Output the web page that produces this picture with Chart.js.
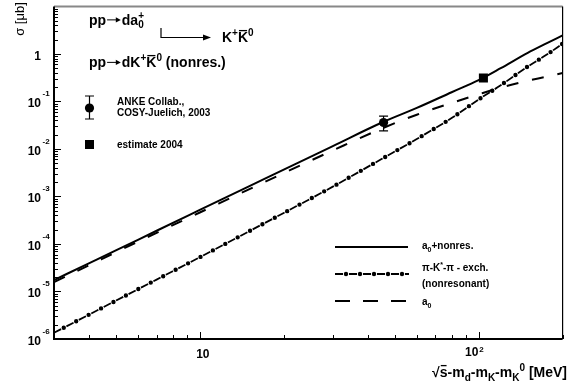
<!DOCTYPE html>
<html>
<head>
<meta charset="utf-8">
<script src="https://cdn.jsdelivr.net/npm/chart.js@4.4.1/dist/chart.umd.min.js"></script>
<style>
  html, body { margin: 0; padding: 0; background: #fff; }
  #wrap { width: 569px; height: 383px; }
</style>
</head>
<body>
<div id="wrap"><canvas id="sigmaChart" width="569" height="383"></canvas></div>
<script>
// excess energy Q = sqrt(s) - m_d - m_K - m_K0 [MeV]
const energies = [3, 4, 5, 7, 10, 15, 20, 30, 45, 60, 80, 100, 120, 150, 175, 200];
// cross sections [mub]
const sigmaTotal  = [1.74e-5, 3.9e-5, 7.3e-5, 1.9e-4, 5.2e-4, 1.63e-3, 3.66e-3, 1.15e-2, 3.6e-2, 7.3e-2, 0.156, 0.28, 0.50, 1.05, 1.66, 2.45];
const sigmaNonres = [1.35e-6, 3.24e-6, 6.4e-6, 1.78e-5, 5.25e-5, 1.84e-4, 4.5e-4, 1.61e-3, 6.2e-3, 1.62e-2, 4.47e-2, 0.11, 0.219, 0.542, 0.955, 1.64];
const sigmaA0     = [1.58e-5, 3.55e-5, 6.7e-5, 1.72e-4, 4.6e-4, 1.41e-3, 3.1e-3, 9.3e-3, 2.7e-2, 5.25e-2, 9.3e-2, 0.141, 0.195, 0.272, 0.331, 0.398];

// measured point (ANKE) and estimate
const ankeX = [45.6];
const ankeY = [0.036];
const ankeLow = [0.024];
const ankeHigh = [0.049];
const estimateX = [104];
const estimateY = [0.31];

// axis ticks
const xMajorTicks = [10, 100];
const xMinorTicks = [3, 4, 5, 6, 7, 8, 9, 20, 30, 40, 50, 60, 70, 80, 90, 200];
const xTickLabels = [['10', ''], ['10', '2']];
const yMajorTicks = [1, 0.1, 0.01, 1e-3, 1e-4, 1e-5, 1e-6];
const yTickLabels = [['1', ''], ['10', '-1'], ['10', '-2'], ['10', '-3'], ['10', '-4'], ['10', '-5'], ['10', '-6']];

const FONT = '"Liberation Sans", Arial, sans-serif';

function toXY(xs, ys) {
  return xs.map((x, i) => ({ x: x, y: ys[i] }));
}

// draws text made of parts: [text, mode]; mode '', 'sub', 'sup', 'subsup', 'bar', 'arrow'
function richText(ctx, x, y, parts, size, weight, draw) {
  const small = Math.round(size * 0.68);
  const start = x;
  parts.forEach(p => {
    const txt = p[0], mode = p[1] || '';
    if (mode === 'arrow') {
      const len = size * 1.05, ay = y - size * 0.33;
      if (draw) {
        ctx.save();
        ctx.lineWidth = 1;
        ctx.beginPath();
        ctx.moveTo(x + 1, ay); ctx.lineTo(x + len - 2, ay);
        ctx.stroke();
        ctx.beginPath();
        ctx.moveTo(x + len, ay); ctx.lineTo(x + len - 5, ay - 2.6); ctx.lineTo(x + len - 5, ay + 2.6); ctx.closePath();
        ctx.fill();
        ctx.restore();
      }
      x += len + 1;
    } else if (mode === 'sub' || mode === 'sup') {
      ctx.font = `${weight} ${small}px ${FONT}`;
      const dy = mode === 'sub' ? size * 0.28 : -size * 0.42;
      if (draw) ctx.fillText(txt, x, y + dy);
      x += ctx.measureText(txt).width;
    } else if (mode === 'subsup') {
      ctx.font = `${weight} ${small}px ${FONT}`;
      if (draw) {
        ctx.fillText(txt[0], x, y + size * 0.28);
        ctx.fillText(txt[1], x, y - size * 0.42);
      }
      x += Math.max(ctx.measureText(txt[0]).width, ctx.measureText(txt[1]).width);
    } else {
      ctx.font = `${weight} ${size}px ${FONT}`;
      const w = ctx.measureText(txt).width;
      if (draw) {
        ctx.fillText(txt, x, y);
        if (mode === 'bar') {
          ctx.fillRect(x + 1, y - size * 0.86, w - 2, 1.3);
        }
      }
      x += w;
    }
  });
  return x - start;
}

const decorPlugin = {
  id: 'decor',
  afterDraw(chart) {
    const ctx = chart.ctx;
    const xs = chart.scales.x, ys = chart.scales.y;
    const a = chart.chartArea;
    ctx.save();
    ctx.fillStyle = '#000';
    ctx.strokeStyle = '#000';
    ctx.textBaseline = 'alphabetic';

    // error bar for ANKE point
    ankeX.forEach((v, i) => {
      const px = xs.getPixelForValue(v);
      const lo = ys.getPixelForValue(ankeLow[i]);
      const hi = ys.getPixelForValue(ankeHigh[i]);
      ctx.lineWidth = 1.2;
      ctx.beginPath();
      ctx.moveTo(px, lo); ctx.lineTo(px, hi);
      ctx.moveTo(px - 4.5, lo); ctx.lineTo(px + 4.5, lo);
      ctx.moveTo(px - 4.5, hi); ctx.lineTo(px + 4.5, hi);
      ctx.stroke();
    });

    // frame
    ctx.lineWidth = 2;
    ctx.strokeStyle = '#888';
    ctx.beginPath(); ctx.moveTo(a.left, a.top); ctx.lineTo(a.right, a.top); ctx.stroke();
    ctx.strokeStyle = '#000';
    ctx.lineWidth = 1.2;
    ctx.beginPath(); ctx.moveTo(a.right, a.top); ctx.lineTo(a.right, a.bottom); ctx.stroke();
    ctx.lineWidth = 2;
    ctx.beginPath(); ctx.moveTo(a.left, a.top); ctx.lineTo(a.left, a.bottom); ctx.lineTo(a.right, a.bottom); ctx.stroke();

    // ticks
    ctx.lineWidth = 1;
    ctx.beginPath();
    xMajorTicks.forEach(v => { const p = Math.round(xs.getPixelForValue(v)) + 0.5; ctx.moveTo(p, a.bottom); ctx.lineTo(p, a.bottom - 7); });
    xMinorTicks.forEach(v => { const p = Math.round(xs.getPixelForValue(v)) + 0.5; ctx.moveTo(p, a.bottom); ctx.lineTo(p, a.bottom - 4); });
    for (let d = -6; d <= 0; d++) {
      const base = Math.pow(10, d);
      let p = Math.round(ys.getPixelForValue(base)) + 0.5;
      ctx.moveTo(a.left, p); ctx.lineTo(a.left + 7, p);
      for (let k = 2; k <= 9; k++) {
        p = Math.round(ys.getPixelForValue(base * k)) + 0.5;
        ctx.moveTo(a.left, p); ctx.lineTo(a.left + 4, p);
      }
    }
    ctx.stroke();

    // y tick labels
    yMajorTicks.forEach((v, i) => {
      const p = ys.getPixelForValue(v);
      const lab = yTickLabels[i];
      ctx.font = `bold 12px ${FONT}`;
      ctx.textAlign = 'right';
      ctx.fillText(lab[0], 41, p + 6);
      if (lab[1]) {
        ctx.textAlign = 'left';
        ctx.font = `bold 8px ${FONT}`;
        ctx.fillText(lab[1], 42.5, p - 5);
      }
    });
    // x tick labels
    xMajorTicks.forEach((v, i) => {
      const p = xs.getPixelForValue(v);
      const lab = xTickLabels[i];
      ctx.font = `bold 12px ${FONT}`;
      ctx.textAlign = 'center';
      if (lab[1]) {
        ctx.fillText(lab[0], p - 7, 356);
        ctx.textAlign = 'left';
        ctx.font = `bold 8px ${FONT}`;
        ctx.fillText(lab[1], p + 0.5, 351.5);
      } else {
        ctx.fillText(lab[0], p + 3, 358);
      }
    });

    ctx.textAlign = 'left';
    // x axis title, right aligned
    const xTitle = [['\u221A', ''], ['s', 'bar'], ['-m', ''], ['d', 'sub'], ['-m', ''], ['K', 'sub'], ['-m', ''], ['K', 'sub'], ['0', 'sup'], [' [MeV]', '']];
    const tw = richText(ctx, 0, 0, xTitle, 14, 'bold', false);
    richText(ctx, 567 - tw, 377, xTitle, 14, 'bold', true);

    // y axis title
    ctx.save();
    ctx.translate(24, 19);
    ctx.rotate(-Math.PI / 2);
    ctx.font = `13px ${FONT}`;
    ctx.textAlign = 'center';
    ctx.fillText('\u03C3 [\u03BCb]', 0, 0);
    ctx.restore();
    ctx.textAlign = 'left';

    // reaction labels
    richText(ctx, 89, 24.5, [['pp', ''], ['', 'arrow'], ['da', ''], [['0', '+'], 'subsup']], 14, 'bold', true);
    ctx.lineWidth = 1.2;
    ctx.beginPath();
    ctx.moveTo(161, 28); ctx.lineTo(161, 37.5); ctx.lineTo(206, 37.5);
    ctx.stroke();
    ctx.beginPath();
    ctx.moveTo(211, 37.5); ctx.lineTo(203, 34.5); ctx.lineTo(203, 40.5); ctx.closePath();
    ctx.fill();
    richText(ctx, 222, 42, [['K', ''], ['+', 'sup'], ['K', 'bar'], ['0', 'sup']], 14, 'bold', true);
    richText(ctx, 89, 67, [['pp', ''], ['', 'arrow'], ['dK', ''], ['+', 'sup'], ['K', 'bar'], ['0', 'sup'], [' (nonres.)', '']], 14, 'bold', true);

    // upper left legend
    ctx.lineWidth = 1.2;
    ctx.beginPath();
    ctx.moveTo(89.5, 96); ctx.lineTo(89.5, 119);
    ctx.moveTo(85, 96); ctx.lineTo(94, 96);
    ctx.moveTo(85, 119); ctx.lineTo(94, 119);
    ctx.stroke();
    ctx.beginPath(); ctx.arc(89.5, 108, 4.6, 0, Math.PI * 2); ctx.fill();
    ctx.fillRect(85, 140, 9, 9);
    ctx.font = `bold 10px ${FONT}`;
    ctx.fillText('ANKE Collab.,', 117, 104.5);
    ctx.fillText('COSY-Juelich, 2003', 117, 115.5);
    ctx.fillText('estimate 2004', 117, 148);

    // lower right legend
    ctx.lineWidth = 2;
    ctx.beginPath(); ctx.moveTo(335, 247); ctx.lineTo(408, 247); ctx.stroke();
    ctx.setLineDash([8, 6]);
    ctx.lineWidth = 1.8;
    ctx.beginPath(); ctx.moveTo(335, 274); ctx.lineTo(409, 274); ctx.stroke();
    ctx.setLineDash([]);
    for (let px = 346; px <= 409; px += 14) {
      ctx.beginPath(); ctx.arc(px, 274, 2.2, 0, Math.PI * 2); ctx.fill();
    }
    ctx.setLineDash([15, 13]);
    ctx.lineWidth = 2;
    ctx.beginPath(); ctx.moveTo(335, 301); ctx.lineTo(409, 301); ctx.stroke();
    ctx.setLineDash([]);
    richText(ctx, 422, 249, [['a', ''], ['0', 'sub'], ['+nonres.', '']], 10, 'bold', true);
    richText(ctx, 422, 271, [['\u03C0-K', ''], ['*', 'sup'], ['-\u03C0 - exch.', '']], 10, 'bold', true);
    ctx.font = `bold 10px ${FONT}`;
    ctx.fillText('(nonresonant)', 422, 286.5);
    richText(ctx, 422, 305, [['a', ''], ['0', 'sub']], 10, 'bold', true);

    ctx.restore();
  }
};

const lineBase = { pointRadius: 0, borderColor: '#000', fill: false, cubicInterpolationMode: 'monotone' };

new Chart(document.getElementById('sigmaChart').getContext('2d'), {
  type: 'line',
  data: {
    datasets: [
      Object.assign({ label: 'a0+nonres.', data: toXY(energies, sigmaTotal), borderWidth: 2 }, lineBase),
      Object.assign({ label: 'a0', data: toXY(energies, sigmaA0), borderWidth: 2, borderDash: [12, 14] }, lineBase),
      Object.assign({ label: 'nonres', data: toXY(energies, sigmaNonres), borderWidth: 1.8, borderDash: [8, 6] }, lineBase),
      Object.assign({ label: 'nonres dots', data: toXY(energies, sigmaNonres), borderWidth: 4.4, borderDash: [0, 14], borderDashOffset: 3, borderCapStyle: 'round' }, lineBase),
      { label: 'ANKE', data: toXY(ankeX, ankeY), showLine: false, pointStyle: 'circle', pointRadius: 4.6, backgroundColor: '#000', borderColor: '#000', borderWidth: 0 },
      { label: 'estimate', data: toXY(estimateX, estimateY), showLine: false, pointStyle: 'rect', pointRadius: 6.4, backgroundColor: '#000', borderColor: '#000', borderWidth: 0 }
    ]
  },
  options: {
    responsive: false,
    animation: false,
    devicePixelRatio: 1,
    layout: { padding: { left: 54, right: 4, top: 5, bottom: 44 } },
    plugins: { legend: { display: false }, tooltip: { enabled: false } },
    scales: {
      x: { type: 'logarithmic', min: 3, max: 200, display: false },
      y: { type: 'logarithmic', min: 1e-6, max: 10, display: false }
    }
  },
  plugins: [decorPlugin]
});
</script>
</body>
</html>
